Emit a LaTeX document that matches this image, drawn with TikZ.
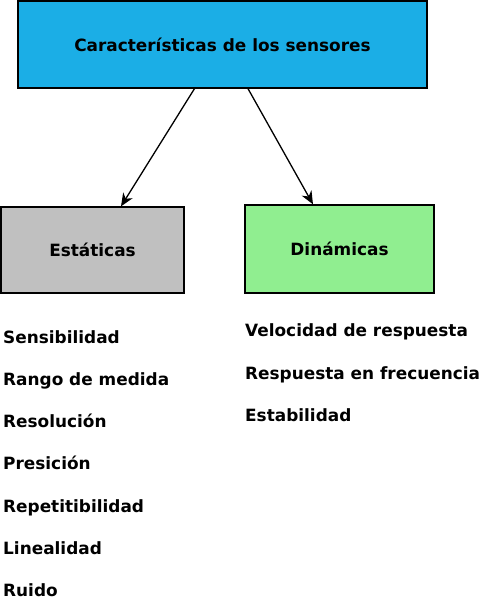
\documentclass[tikz,border=0pt]{standalone}
\usepackage{fontspec}
\setmainfont{DejaVu Sans}
\usepackage{tikz}
\usetikzlibrary{calc,arrows.meta}

\definecolor{topblue}{RGB}{27,174,230}
\definecolor{estgray}{RGB}{192,192,192}
\definecolor{dingreen}{RGB}{144,238,144}

\begin{document}
\begin{tikzpicture}[x=1pt, y=-1pt,
    box/.style={draw=black, line width=1.3pt, inner sep=0pt, font=\fontsize{16.9}{20}\selectfont\bfseries},
    item/.style={anchor=base west, inner sep=0pt, font=\fontsize{16.9}{20}\selectfont\bfseries},
    link/.style={line width=1.3pt, -{Stealth[length=13pt, width=11pt, inset=4pt]}}]
    \useasboundingbox (0,0) rectangle (480,600);

    \node[box, fill=topblue, minimum width=409pt, minimum height=87pt] (top) at (222.5, 44.5) {Características de los sensores};
    \node[box, fill=estgray, minimum width=183pt, minimum height=86pt] (est) at (92.5, 250) {Estáticas};
    \node[box, fill=dingreen, minimum width=189pt, minimum height=88pt] (din) at (339.5, 249) {Dinámicas};

    \draw[link] ([xshift=-28pt]top.south) -- ([xshift=28.5pt]est.north);
    \draw[link] ([xshift=25.5pt]top.south) -- ([xshift=-26.5pt]din.north);

    \foreach \t [count=\i from 0] in {Sensibilidad, Rango de medida, Resolución, Presición, Repetitibilidad, Linealidad, Ruido} {
        \node[item] (est\i) at (3, 343 + 42.3*\i) {\t};
    }
    \foreach \t [count=\i from 0] in {Velocidad de respuesta, Respuesta en frecuencia, Estabilidad} {
        \node[item] (din\i) at (245, 336.7 + 42.3*\i) {\t};
    }
\end{tikzpicture}
\end{document}
